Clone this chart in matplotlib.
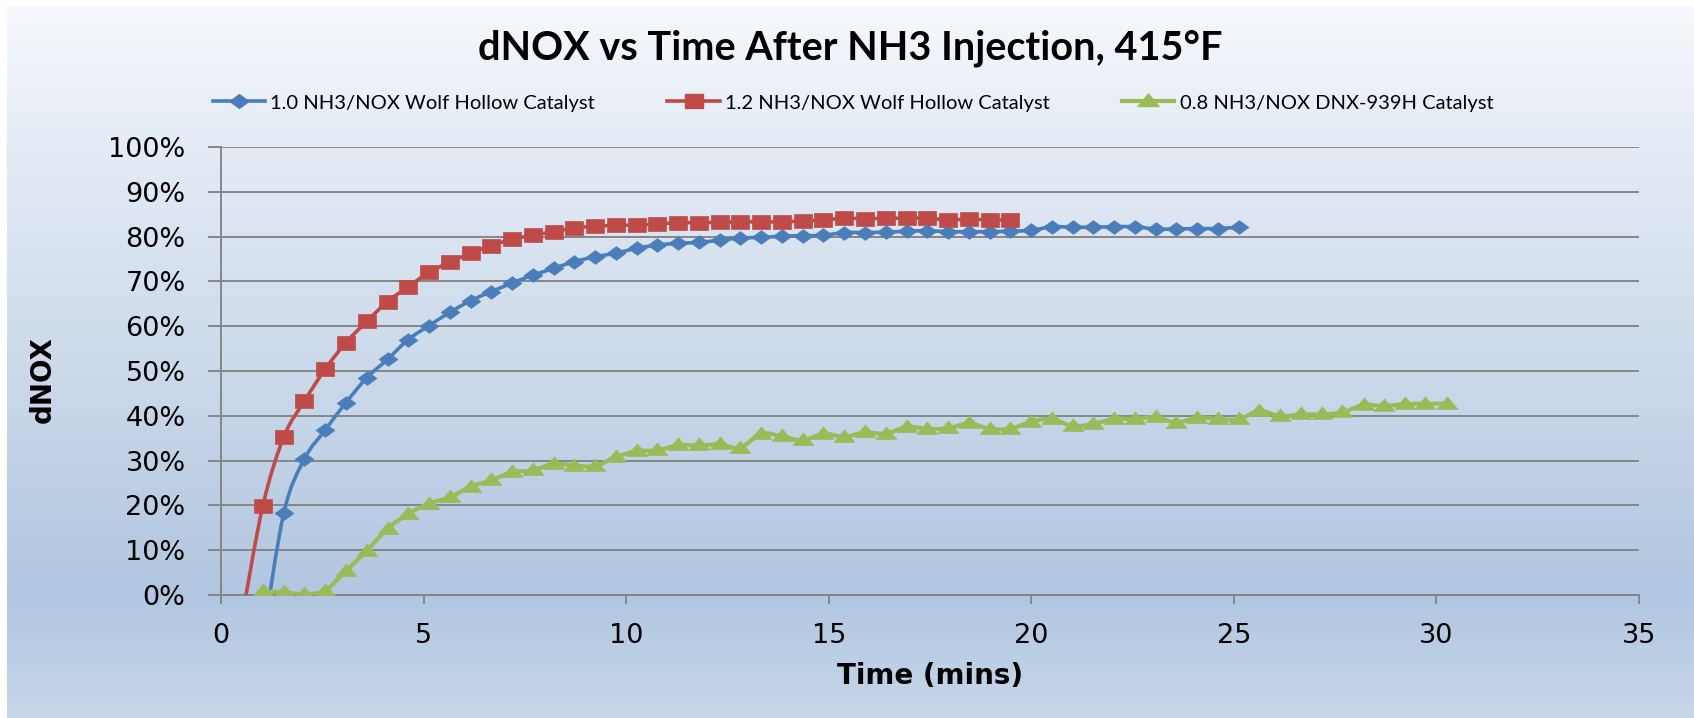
import numpy as np
import matplotlib
matplotlib.use('Agg')
from matplotlib import pyplot as plt
from matplotlib.path import Path
from matplotlib.patches import PathPatch
from matplotlib.lines import Line2D
from matplotlib.colors import to_rgb

# sample times (min), shared by all three runs
time_min = [0.52, 1.03, 1.55, 2.06, 2.57, 3.08, 3.60, 4.11, 4.62, 5.13,
            5.65, 6.16, 6.67, 7.18, 7.70, 8.21, 8.72, 9.23, 9.75, 10.26,
            10.77, 11.28, 11.80, 12.31, 12.82, 13.33, 13.85, 14.36, 14.87, 15.38,
            15.90, 16.41, 16.92, 17.43, 17.95, 18.46, 18.97, 19.48, 20.00, 20.51,
            21.02, 21.53, 22.05, 22.56, 23.07, 23.58, 24.10, 24.61, 25.12, 25.63,
            26.15, 26.66, 27.17, 27.68, 28.20, 28.71, 29.22, 29.73, 30.25]

# dNOX (%) - red starts at time_min[0], blue and green at time_min[1]
red_vals = [-5.0, 19.8, 35.3, 43.3, 50.4, 56.3, 61.1, 65.5, 68.8, 72.0,
            74.3, 76.3, 78.0, 79.4, 80.3, 81.1, 81.9, 82.3, 82.5, 82.6,
            82.8, 83.1, 83.1, 83.2, 83.3, 83.3, 83.3, 83.5, 83.7, 84.1,
            84.0, 84.1, 84.1, 84.1, 83.7, 83.9, 83.7, 83.7]
blue_vals = [-10.0, 18.3, 30.4, 36.8, 42.9, 48.5, 52.6, 57.0, 60.1, 63.1,
             65.7, 67.7, 69.6, 71.4, 72.9, 74.4, 75.5, 76.3, 77.4, 78.1,
             78.5, 78.7, 79.2, 79.7, 79.8, 80.1, 80.2, 80.3, 80.9, 80.9,
             81.0, 81.2, 81.3, 81.1, 81.1, 81.1, 81.2, 81.4, 82.2, 82.1,
             82.1, 82.2, 82.2, 81.7, 81.7, 81.8, 81.8, 82.1]
green_vals = [0.8, 0.6, 0.2, 1.0, 5.4, 9.9, 14.8, 18.1, 20.4, 21.8,
              24.2, 25.6, 27.4, 27.8, 29.3, 28.9, 28.8, 30.8, 32.1, 32.3,
              33.4, 33.4, 33.6, 32.9, 36.0, 35.4, 34.5, 36.0, 35.3, 36.3,
              36.0, 37.5, 37.1, 37.2, 38.3, 37.1, 37.1, 38.7, 39.3, 37.7,
              38.2, 39.3, 39.3, 39.7, 38.5, 39.6, 39.3, 39.2, 41.1, 39.9,
              40.3, 40.3, 40.8, 42.4, 42.2, 42.6, 42.7, 42.7]

labels = ['1.0 NH3/NOX Wolf Hollow Catalyst',
          '1.2 NH3/NOX Wolf Hollow Catalyst',
          '0.8 NH3/NOX DNX-939H Catalyst']

W, H = 1694, 718


def smooth_path(x, y):
    # excel style smoothed line (catmull-rom as bezier)
    pts = np.column_stack([x, y])
    n = len(pts)
    verts = [pts[0]]
    codes = [Path.MOVETO]
    for i in range(n - 1):
        p0 = pts[i - 1] if i > 0 else pts[i]
        p1 = pts[i]
        p2 = pts[i + 1]
        p3 = pts[i + 2] if i + 2 < n else pts[i + 1]
        verts += [p1 + (p2 - p0) / 6, p2 - (p3 - p1) / 6, p2]
        codes += [Path.CURVE4] * 3
    return Path(verts, codes)


# stretched markers like the original picture
sq = Path([(-0.68, -0.5), (0.68, -0.5), (0.68, 0.5), (-0.68, 0.5), (-0.68, -0.5)],
          [1, 2, 2, 2, 79])
dia = Path([(0, -0.5), (0.68, 0), (0, 0.5), (-0.68, 0), (0, -0.5)], [1, 2, 2, 2, 79])
tri = Path([(-0.8, -0.38), (0.8, -0.38), (0, 0.58), (-0.8, -0.38)], [1, 2, 2, 79])

fig = plt.figure(figsize=(W / 100, H / 100), dpi=100)
fig.patch.set_facecolor('white')

# background gradient
bg = fig.add_axes([7 / W, 0, 1 - 7 / W, 1 - 6 / H])
stops = [(0, '#F6F9FC'), (150, '#E4EBF5'), (370, '#CBD9EA'), (595, '#B1C6E0'), (718, '#C7D7EA')]
ys = np.arange(6, H)
cols = np.array([[np.interp(yy, [s[0] for s in stops], [to_rgb(s[1])[k] for s in stops])
                  for k in range(3)] for yy in ys])
bg.imshow(cols[:, None, :], aspect='auto', extent=[0, 1, 0, 1])
bg.axis('off')

ax = fig.add_axes([221 / W, 1 - 595 / H, (1639 - 221) / W, (595 - 147) / H])
ax.set_facecolor('none')
ax.set_xlim(0, 35)
ax.set_ylim(0, 100)

series = [
    (time_min[1:1 + len(blue_vals)], blue_vals, '#4A7EBB', dia, 13.5, 2.6),
    (time_min[:len(red_vals)], red_vals, '#BE4B48', sq, 13.5, 2.6),
    (time_min[1:1 + len(green_vals)], green_vals, '#9BBB59', tri, 15, 3.0),
]
handles = []
for (x, y, c, mk, ms, lw), lab in zip(series, labels):
    patch = PathPatch(smooth_path(x, y), fill=False, edgecolor=c, lw=lw,
                      capstyle='round', joinstyle='round', zorder=3)
    ax.add_patch(patch)
    ax.plot(x, y, ls='none', marker=mk, ms=ms, color=c, mec=c, mew=0.5, zorder=4)
    handles.append(Line2D([], [], color=c, lw=lw, marker=mk, ms=ms, mec=c, label=lab))

grid_c = '#868686'
ax.set_yticks(np.arange(0, 101, 10))
ax.set_yticklabels(['%d%%' % v for v in range(0, 101, 10)])
ax.set_xticks(range(0, 36, 5))
ax.yaxis.grid(True, color=grid_c, lw=1.4)
ax.set_axisbelow(True)
for s in ['top', 'right']:
    ax.spines[s].set_visible(False)
for s in ['left', 'bottom']:
    ax.spines[s].set_color(grid_c)
    ax.spines[s].set_linewidth(1.4)
ax.tick_params(axis='y', length=9.5, width=1.4, color=grid_c, pad=16, labelsize=19.5)
ax.tick_params(axis='x', length=6.5, width=1.4, color=grid_c, pad=14, labelsize=19.5)

fig.text(0.502, 1 - 48 / H, 'dNOX vs Time After NH3 Injection, 415°F',
         ha='center', va='center', fontsize=28.5, fontweight='bold', family='Lato')
fig.legend(handles=handles, loc='center', bbox_to_anchor=(853 / W, 1 - 103 / H), ncol=3,
           frameon=False, prop={'family': 'Lato', 'size': 14.5}, handlelength=2.6,
           handletextpad=0.25, columnspacing=3.6, numpoints=1)
fig.text(930 / W, 1 - 676 / H, 'Time (mins)', ha='center', va='center',
         fontsize=20, fontweight='bold')
fig.text(43 / W, 1 - 380 / H, 'dNOX', ha='center', va='center', rotation=90,
         fontsize=20, fontweight='bold')

fig.savefig('out.png', dpi=100)
